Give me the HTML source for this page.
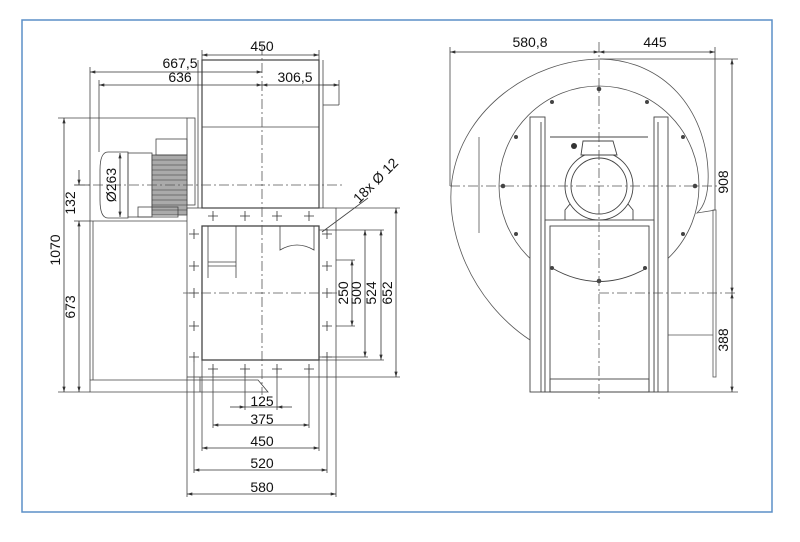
<!DOCTYPE html>
<html><head><meta charset="utf-8"><style>
html,body{margin:0;padding:0;background:#fff;width:800px;height:542px;overflow:hidden}
svg text{font-family:"Liberation Sans",sans-serif;font-size:14px;fill:#111}
</style></head><body>
<svg width="800" height="542" viewBox="0 0 800 542" xmlns="http://www.w3.org/2000/svg">
<defs>
<marker id="a" viewBox="0 0 10 6" refX="10" refY="3" markerWidth="7" markerHeight="4" orient="auto-start-reverse"><path d="M0,0L10,3L0,6z" fill="#333"/></marker>
</defs>
<rect x="22" y="20" width="750" height="492" fill="none" stroke="#5b8fc7" stroke-width="1.5"/>
<g stroke="#444" stroke-width="0.8" fill="none">
<rect x="202" y="60" width="117" height="148" stroke-width="1.2"/>
<line x1="202" y1="127" x2="319" y2="127"/>
<line x1="198" y1="60" x2="198" y2="208"/><line x1="323" y1="60" x2="323" y2="208"/>
<line x1="323" y1="85" x2="339" y2="85"/><line x1="323" y1="105" x2="339" y2="105"/><line x1="339" y1="85" x2="339" y2="105"/>
<rect x="187" y="118" width="8" height="87"/>
<path d="M128,152 L108,152 Q100,152 100,170 L100,200 Q100,218 108,218 L128,218 Z"/>
<rect x="128" y="153" width="24" height="64"/>
<rect x="152" y="155" width="35" height="60" fill="#aaa"/>
<g stroke="#333" stroke-width="0.6">
<line x1="152" y1="160" x2="187" y2="160"/><line x1="152" y1="165" x2="187" y2="165"/><line x1="152" y1="170" x2="187" y2="170"/><line x1="152" y1="175" x2="187" y2="175"/><line x1="152" y1="180" x2="187" y2="180"/><line x1="152" y1="190" x2="187" y2="190"/><line x1="152" y1="195" x2="187" y2="195"/><line x1="152" y1="200" x2="187" y2="200"/><line x1="152" y1="205" x2="187" y2="205"/><line x1="152" y1="210" x2="187" y2="210"/>
</g>
<rect x="156" y="139" width="31" height="16"/>
<rect x="138" y="207" width="40" height="10"/>
<rect x="187" y="208" width="149" height="169"/>
<rect x="202" y="226" width="117" height="134" stroke-width="1.3"/>
<path d="M208,226 L208,278 M236,226 L236,278 M208,262 L236,262 M208,266 L236,266"/>
<path d="M280,226 L280,250 Q297,240 314,250 L314,226"/>
<line x1="90" y1="221" x2="187" y2="221"/>
<line x1="90" y1="205" x2="90" y2="380"/><line x1="93" y1="221" x2="93" y2="380"/>
<path d="M90,380 L258,380 L268,392 L90,392 Z"/>
<line x1="200" y1="377" x2="200" y2="392"/>
<g stroke="#333">
<path d="M213,211v10M208,216h10 M245,211v10M240,216h10 M277,211v10M272,216h10 M309,211v10M304,216h10"/>
<path d="M194,229v10M189,234h10 M194,261v10M189,266h10 M194,288v10M189,293h10 M194,321v10M189,326h10 M194,352v10M189,357h10"/>
<path d="M327,229v10M322,234h10 M327,261v10M322,266h10 M327,288v10M322,293h10 M327,321v10M322,326h10 M327,352v10M322,357h10"/>
<path d="M213,364v10M208,369h10 M245,364v10M240,369h10 M277,364v10M272,369h10 M309,364v10M304,369h10"/>
</g>
<g stroke-dasharray="10,3,2,3" stroke="#555">
<line x1="262" y1="45" x2="262" y2="395"/>
<line x1="75" y1="185" x2="345" y2="185"/>
<line x1="183" y1="293" x2="340" y2="293"/>
</g>
<line x1="202" y1="50" x2="202" y2="60"/><line x1="319" y1="50" x2="319" y2="60"/>
<line x1="90" y1="67" x2="90" y2="205"/><line x1="99" y1="80" x2="99" y2="152"/><line x1="339" y1="80" x2="339" y2="85"/>
<line x1="58" y1="118" x2="187" y2="118"/><line x1="58" y1="392" x2="90" y2="392"/>
<line x1="74" y1="185" x2="90" y2="185"/><line x1="74" y1="221" x2="90" y2="221"/>
<line x1="336" y1="208" x2="400" y2="208"/><line x1="319" y1="230" x2="384" y2="230"/>
<line x1="336" y1="260" x2="355" y2="260"/><line x1="336" y1="326" x2="355" y2="326"/>
<line x1="319" y1="357" x2="368" y2="357"/><line x1="319" y1="360" x2="384" y2="360"/><line x1="336" y1="377" x2="400" y2="377"/>
<line x1="245" y1="369" x2="245" y2="410"/><line x1="277" y1="369" x2="277" y2="410"/>
<line x1="213" y1="369" x2="213" y2="428"/><line x1="309" y1="369" x2="309" y2="428"/>
<line x1="202" y1="360" x2="202" y2="451"/><line x1="319" y1="360" x2="319" y2="451"/>
<line x1="194" y1="362" x2="194" y2="473"/><line x1="327" y1="362" x2="327" y2="473"/>
<line x1="187" y1="377" x2="187" y2="497"/><line x1="336" y1="377" x2="336" y2="497"/>
<line x1="322" y1="232" x2="368" y2="198"/>
</g>
<g stroke="#333" stroke-width="0.8" marker-start="url(#a)" marker-end="url(#a)">
<line x1="202" y1="55" x2="319" y2="55"/>
<line x1="90" y1="72" x2="262" y2="72"/>
<line x1="99" y1="85" x2="262" y2="85"/>
<line x1="262" y1="85" x2="339" y2="85"/>
<line x1="64" y1="118" x2="64" y2="392"/>
<line x1="79" y1="221" x2="79" y2="392"/>
<line x1="120" y1="153" x2="120" y2="217"/>
<line x1="352" y1="260" x2="352" y2="326"/>
<line x1="365" y1="230" x2="365" y2="357"/>
<line x1="381" y1="230" x2="381" y2="360"/>
<line x1="396" y1="208" x2="396" y2="377"/>
<line x1="213" y1="425" x2="309" y2="425"/>
<line x1="202" y1="448" x2="319" y2="448"/>
<line x1="194" y1="470" x2="327" y2="470"/>
<line x1="187" y1="494" x2="336" y2="494"/>
</g>
<g stroke="#333" stroke-width="0.8" marker-end="url(#a)">
<line x1="79" y1="170" x2="79" y2="185"/>
<line x1="230" y1="407" x2="245" y2="407"/><line x1="292" y1="407" x2="277" y2="407"/>
<line x1="245" y1="407" x2="277" y2="407" marker-end="none"/>
</g>
<text x="262" y="51" text-anchor="middle">450</text>
<text x="180" y="68" text-anchor="middle">667,5</text>
<text x="180" y="82" text-anchor="middle">636</text>
<text x="295" y="82" text-anchor="middle">306,5</text>
<text transform="translate(60,250) rotate(-90)" text-anchor="middle">1070</text>
<text transform="translate(75,307) rotate(-90)" text-anchor="middle">673</text>
<text transform="translate(75,203) rotate(-90)" text-anchor="middle">132</text>
<text transform="translate(116,185) rotate(-90)" text-anchor="middle">Ø263</text>
<text transform="translate(359,204) rotate(-45)">18x Ø 12</text>
<text transform="translate(348,293) rotate(-90)" text-anchor="middle">250</text>
<text transform="translate(361,293) rotate(-90)" text-anchor="middle">500</text>
<text transform="translate(376,293) rotate(-90)" text-anchor="middle">524</text>
<text transform="translate(392,293) rotate(-90)" text-anchor="middle">652</text>
<text x="262" y="406" text-anchor="middle">125</text>
<text x="262" y="424" text-anchor="middle">375</text>
<text x="262" y="446" text-anchor="middle">450</text>
<text x="262" y="468" text-anchor="middle">520</text>
<text x="262" y="492" text-anchor="middle">580</text>

<g stroke="#555" stroke-width="0.8" fill="none">
<path d="M530,340 C470,300 445,230 452,180 C462,110 530,60 600,59 C665,60 705,110 708,170 C709,190 706,205 697,213 C703,212 710,211 715,210"/>
<circle cx="599" cy="186" r="100"/>
<rect x="713" y="210" width="3" height="167"/>
<line x1="668" y1="335" x2="713" y2="335"/>
<line x1="479" y1="137" x2="479" y2="233"/>
</g>
<g fill="#fff" stroke="#444" stroke-width="0.9">
<rect x="530" y="117" width="15" height="275"/><line x1="541" y1="122" x2="541" y2="392"/>
<rect x="654" y="117" width="14" height="275"/><line x1="658" y1="122" x2="658" y2="392"/>
<rect x="545" y="220" width="109" height="172"/>
<rect x="550" y="226" width="99" height="166" fill="none"/>
<path d="M552,268 Q599,295 647,268" fill="none"/>
<rect x="550" y="379" width="99" height="13" fill="none"/>
<path d="M565,220 L565,210 L575,198 L623,198 L633,210 L633,220" fill="none"/>
<circle cx="599" cy="186" r="34"/>
<circle cx="599" cy="186" r="28"/>
<path d="M581,155 L583,141 L613,141 L617,155 Z"/>
<line x1="550" y1="137" x2="648" y2="137"/>
</g>
<circle cx="574" cy="146" r="3" fill="#333"/>
<g fill="#444">
<circle cx="599" cy="89" r="2.3"/><circle cx="552" cy="102" r="2"/><circle cx="647" cy="102" r="2"/>
<circle cx="516" cy="137" r="2"/><circle cx="683" cy="137" r="2"/>
<circle cx="503" cy="186" r="2.3"/><circle cx="695" cy="186" r="2.3"/>
<circle cx="516" cy="234" r="2"/><circle cx="683" cy="234" r="2"/>
<circle cx="552" cy="268" r="2"/><circle cx="645" cy="268" r="2"/><circle cx="599" cy="281" r="2.3"/>
</g>
<g stroke="#555" stroke-width="0.8" stroke-dasharray="10,3,2,3" fill="none">
<line x1="599" y1="42" x2="599" y2="400"/>
<line x1="450" y1="186" x2="720" y2="186"/>
<line x1="599" y1="293" x2="735" y2="293"/>
</g>
<g stroke="#444" stroke-width="0.8">
<line x1="450" y1="47" x2="450" y2="186"/><line x1="715" y1="47" x2="715" y2="210"/>
<line x1="600" y1="59" x2="738" y2="59"/><line x1="668" y1="392" x2="738" y2="392"/>
</g>
<g stroke="#333" stroke-width="0.8" marker-start="url(#a)" marker-end="url(#a)">
<line x1="450" y1="52" x2="599" y2="52"/>
<line x1="599" y1="52" x2="715" y2="52"/>
<line x1="732" y1="59" x2="732" y2="293"/>
<line x1="732" y1="293" x2="732" y2="392"/>
</g>
<text x="530" y="47" text-anchor="middle">580,8</text>
<text x="655" y="47" text-anchor="middle">445</text>
<text transform="translate(728,182) rotate(-90)" text-anchor="middle">908</text>
<text transform="translate(728,340) rotate(-90)" text-anchor="middle">388</text>
</svg>
</body></html>
